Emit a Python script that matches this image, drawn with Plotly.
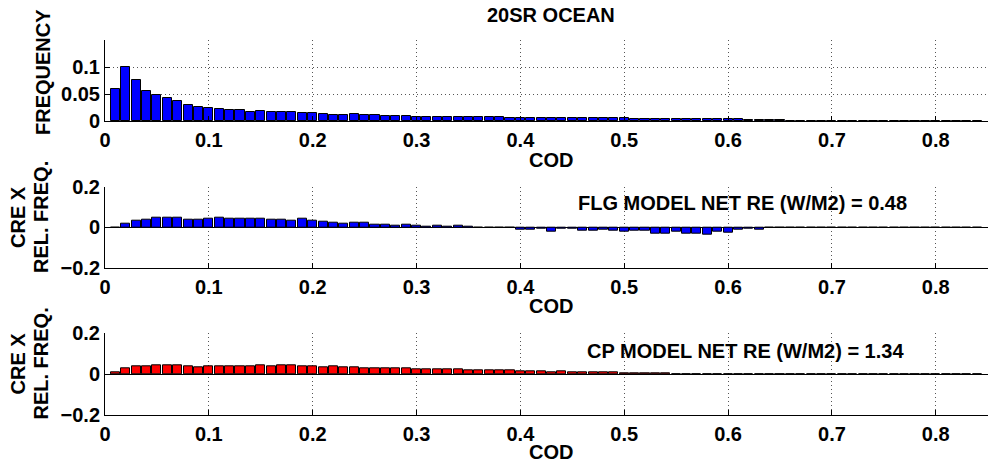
import plotly.graph_objects as go

# ---- data ----
COD_BINS = [round(0.01 * k, 2) for k in range(1, 85)]

FREQUENCY = [
    0.060, 0.100, 0.076, 0.056, 0.049, 0.043, 0.037, 0.031, 0.026, 0.0245,
    0.0226, 0.0207, 0.020, 0.018, 0.019, 0.017, 0.017, 0.017, 0.015, 0.015,
    0.0134, 0.012, 0.0116, 0.0128, 0.0116, 0.0116, 0.0104, 0.0098, 0.0104, 0.0085,
    0.0085, 0.008, 0.0085, 0.008, 0.0073, 0.0073, 0.0073, 0.0073, 0.0067, 0.0067,
    0.006, 0.006, 0.006, 0.0055, 0.006, 0.006, 0.0055, 0.0055, 0.0055, 0.0055,
    0.005, 0.005, 0.005, 0.005, 0.005, 0.005, 0.005, 0.005, 0.005, 0.005,
    0.004, 0.003, 0.0025, 0.002, 0.0015, 0.0012, 0.001, 0.0008, 0.0006, 0.0005,
    0.0004, 0.0003, 0.0003, 0.0003, 0.0002, 0.0002, 0.0002, 0.0002, 0.0002, 0.0002,
    0.0006, 0.0006, 0.0002, 0.0001,
]

FLG_CRE = [
    0.0, 0.020, 0.033, 0.038, 0.048, 0.046, 0.046, 0.039, 0.039, 0.041,
    0.046, 0.044, 0.044, 0.044, 0.041, 0.039, 0.036, 0.034, 0.041, 0.031,
    0.026, 0.023, 0.018, 0.025, 0.021, 0.015, 0.013, 0.007, 0.011, 0.0066,
    0.003, 0.008, 0.003, 0.010, 0.0016, -0.0016, -0.0016, -0.0016, -0.0016, -0.010,
    -0.013, -0.008, -0.021, -0.005, -0.005, -0.015, -0.015, -0.013, -0.015, -0.021,
    -0.018, -0.018, -0.029, -0.031, -0.021, -0.030, -0.030, -0.038, -0.023, -0.026,
    -0.013, -0.007, -0.010, -0.003, -0.002, -0.001, -0.001, -0.001, -0.001, -0.001,
    -0.0005, -0.0005, -0.0005, -0.0005, -0.0005, -0.0005, -0.0005, -0.0005, -0.0005, -0.0005,
    -0.0005, -0.0005, -0.0005, -0.0005,
]

CP_CRE = [
    0.008, 0.028, 0.036, 0.036, 0.043, 0.043, 0.043, 0.038, 0.033, 0.039,
    0.038, 0.036, 0.038, 0.038, 0.041, 0.039, 0.044, 0.043, 0.039, 0.039,
    0.034, 0.036, 0.031, 0.033, 0.030, 0.026, 0.027, 0.026, 0.026, 0.025,
    0.023, 0.021, 0.023, 0.021, 0.018, 0.018, 0.020, 0.018, 0.016, 0.015,
    0.013, 0.013, 0.010, 0.011, 0.010, 0.008, 0.008, 0.008, 0.007, 0.003,
    0.005, 0.003, 0.0016, 0.0016, 0.001, 0.001, -0.001, -0.002, -0.001, -0.002,
    -0.002, -0.003, -0.003, -0.003, -0.002, -0.001, -0.0005, -0.0005, -0.0005, -0.0005,
    -0.0005, -0.0005, -0.0005, -0.0005, -0.0005, -0.0005, -0.0005, -0.0005, -0.0005, -0.0005,
    -0.0005, -0.0005, -0.0005, -0.0005,
]

X_TICKS = [0, 0.1, 0.2, 0.3, 0.4, 0.5, 0.6, 0.7, 0.8]
X_TICK_LABELS = ["0", "0.1", "0.2", "0.3", "0.4", "0.5", "0.6", "0.7", "0.8"]
TOP_Y_TICKS = [0, 0.05, 0.1]
TOP_Y_LABELS = ["0", "0.05", "0.1"]
CRE_Y_TICKS = [-0.2, 0, 0.2]
CRE_Y_LABELS = ["\u22120.2", "0", "0.2"]

TITLE = "20SR OCEAN"
FLG_TEXT = "FLG MODEL NET RE (W/M2) = 0.48"
CP_TEXT = "CP MODEL NET RE (W/M2) = 1.34"

# ---- figure ----
W, H = 989, 468
FONT = dict(family="Liberation Sans, Arial, sans-serif", size=20, color="black", weight="bold")

def px_x(p):
    return p / W

def px_y(p):
    return 1 - p / H

x_dom = [px_x(105), px_x(987.7)]
doms = [
    [px_y(121.3), px_y(40.0)],
    [px_y(268.0), px_y(186.7)],
    [px_y(414.7), px_y(333.3)],
]

fig = go.Figure()
series = [(FREQUENCY, "#0000FF"), (FLG_CRE, "#0000FF"), (CP_CRE, "#FF0000")]
for i, (vals, col) in enumerate(series):
    idx = "" if i == 0 else str(i + 1)
    fig.add_trace(go.Bar(
        x=COD_BINS, y=vals, width=0.0087,
        marker=dict(color=col, line=dict(color="black", width=1)),
        xaxis="x" + idx, yaxis="y" + idx, showlegend=False,
    ))

grid_common = dict(showgrid=True, gridcolor="#555555", gridwidth=1, griddash="1px,3px",
                   showline=True, linecolor="black", linewidth=1,
                   ticks="inside", ticklen=5, tickcolor="black", tickwidth=1,
                   tickfont=FONT, mirror=False, automargin=False)

layout = dict(width=W, height=H, margin=dict(l=0, r=0, t=0, b=0),
              paper_bgcolor="white", plot_bgcolor="white", bargap=0,
              font=FONT)

for i in range(3):
    idx = "" if i == 0 else str(i + 1)
    xa = dict(grid_common, domain=x_dom, range=[0, 0.85], tickvals=X_TICKS,
              ticktext=X_TICK_LABELS, zeroline=False, anchor="y" + idx,
              ticklabelstandoff=1)
    if i == 0:
        ya = dict(grid_common, domain=doms[i], range=[0, 0.15], tickvals=TOP_Y_TICKS,
                  ticktext=TOP_Y_LABELS, zeroline=False, anchor="x" + idx)
    else:
        ya = dict(grid_common, domain=doms[i], range=[-0.2, 0.2], tickvals=CRE_Y_TICKS,
                  ticktext=CRE_Y_LABELS, zeroline=True, zerolinecolor="black",
                  zerolinewidth=1, anchor="x" + idx)
    layout["xaxis" + idx] = xa
    layout["yaxis" + idx] = ya

ann = []
def add(text, x, y, angle=0):
    ann.append(dict(text=text, x=px_x(x), y=px_y(y), xref="paper", yref="paper",
                    xanchor="center", yanchor="middle", showarrow=False,
                    textangle=angle, font=FONT, borderpad=0))

add(TITLE, 551, 15)
add("COD", 551, 159.5)
add("COD", 551, 306)
add("COD", 551, 452)
add("FREQUENCY", 42.5, 72.5, -90)
add("CRE X", 17.5, 217.5, -90)
add("REL. FREQ.", 40.5, 217.5, -90)
add("CRE X", 17.5, 364, -90)
add("REL. FREQ.", 40.5, 364, -90)
add(FLG_TEXT, 742.5, 203)
add(CP_TEXT, 745.7, 350.5)
layout["annotations"] = ann

fig.update_layout(**layout)
fig.write_html("out.html", config={"displayModeBar": False},
               post_script="document.body.style.margin='0';document.body.style.overflow='hidden';")
